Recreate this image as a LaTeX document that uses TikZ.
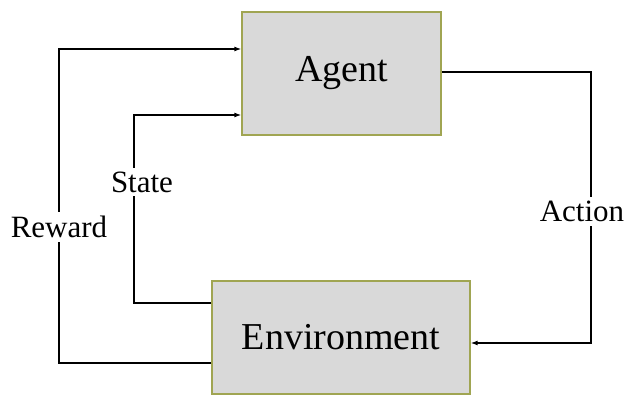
\documentclass[tikz,border=0pt]{standalone}
\usepackage{fontspec}
\setmainfont{Liberation Serif}
\definecolor{BoxGray}{HTML}{D9D9D9}
\definecolor{BoxEdge}{HTML}{A0A552}
\usetikzlibrary{arrows.meta, positioning, calc}

\begin{document}
\begin{tikzpicture}[x=1pt, y=-1pt, >={Latex[length=7pt,width=5pt]},
  box/.style={draw=BoxEdge, fill=BoxGray, line width=1.3pt, inner sep=0pt,
              font=\fontsize{38}{40}\selectfont, text centered},
  flow/.style={->, line width=1.4pt},
  lbl/.style={fill=white, inner sep=4pt, font=\fontsize{31}{33}\selectfont}]
  \useasboundingbox (0,0) rectangle (627,403);

  \node[box, minimum width=199pt, minimum height=123pt] (agent) at (341.5,73.5) {Agent};
  \node[box, minimum width=258pt, minimum height=113pt] (env) at (341,337.5) {Environment};

  % loop corners
  \coordinate (rwcorner) at (59,49);
  \coordinate (stcorner) at (134,115);
  \coordinate (accorner) at (591,343);

  \draw[flow] ([yshift=-25.5pt]env.west) -| node[lbl, pos=0.717] (reward) {Reward}
    (rwcorner) -- ([yshift=24.5pt]agent.west);
  \draw[flow] ([yshift=34.5pt]env.west) -| node[lbl, pos=0.822, xshift=8pt] (state) {State}
    (stcorner) -- ([yshift=-41.5pt]agent.west);
  \draw[flow] ([yshift=1.5pt]agent.east) -| node[lbl, pos=0.758, xshift=-9pt] (action) {Action}
    (accorner) -- ([yshift=-5.5pt]env.east);
\end{tikzpicture}
\end{document}
